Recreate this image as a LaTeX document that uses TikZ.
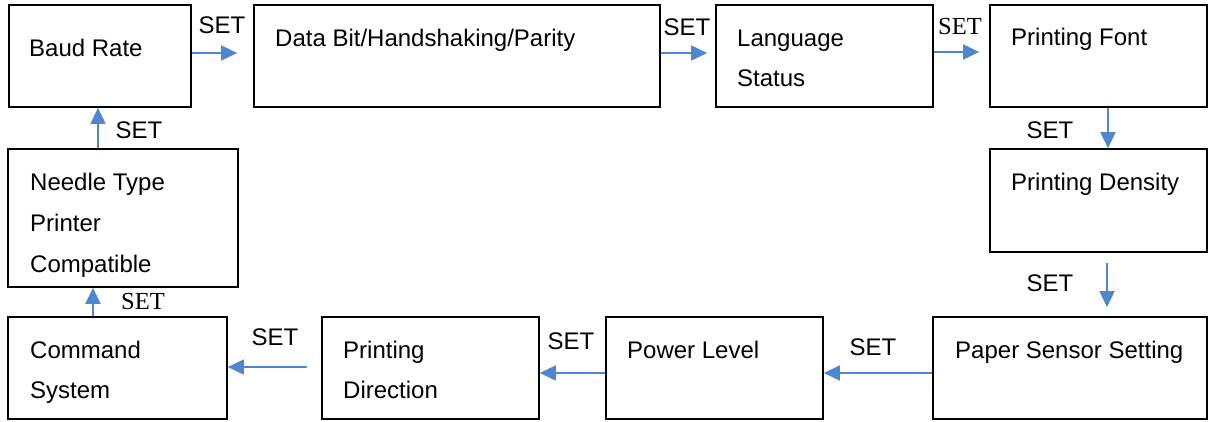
\documentclass[tikz,border=0pt]{standalone}
\usepackage{fontspec}
\setmainfont{Liberation Sans}
\newfontfamily\timesfont{Liberation Serif}
\usetikzlibrary{arrows.meta}
\definecolor{arrowblue}{RGB}{79,134,206}
\begin{document}
\begin{tikzpicture}[x=1pt,y=-1pt,
  box/.style={draw=black, line width=1.7pt, inner sep=0pt},
  lbl/.style={anchor=base west, inner sep=0pt, font=\fontsize{24}{28}\selectfont},
  setlbl/.style={inner sep=0pt, font=\fontsize{24}{28}\selectfont},
  setserif/.style={inner sep=0pt, font=\fontsize{24.5}{28}\selectfont\timesfont},
  conn/.style={draw=arrowblue, line width=1.8pt, -{Triangle[length=16pt,width=15pt]}}]
\useasboundingbox (0,0) rectangle (1213,421);

% boxes
\node[box, minimum width=182pt, minimum height=102pt] (baud) at (100,56) {};
\node[box, minimum width=406pt, minimum height=102pt] (data) at (457,56) {};
\node[box, minimum width=217pt, minimum height=102pt] (lang) at (824.5,56) {};
\node[box, minimum width=217pt, minimum height=102pt] (font) at (1098.5,56) {};
\node[box, minimum width=217pt, minimum height=103pt] (density) at (1098.5,200.5) {};
\node[box, minimum width=274pt, minimum height=102pt] (paper) at (1070,368) {};
\node[box, minimum width=217pt, minimum height=102pt] (power) at (714.5,368) {};
\node[box, minimum width=217pt, minimum height=102pt] (direction) at (430.5,368) {};
\node[box, minimum width=219pt, minimum height=102pt] (command) at (117.5,368) {};
\node[box, minimum width=230pt, minimum height=138pt] (needle) at (123,218) {};

% texts
\node[lbl] (tbaud) at (29,56) {Baud Rate};
\node[lbl] (tdata) at (275,46) {Data Bit/Handshaking/Parity};
\node[lbl] (tlang1) at (737,46) {Language};
\node[lbl] (tlang2) at (737,86) {Status};
\node[lbl] (tfont) at (1011,45) {Printing Font};
\node[lbl] (tdens) at (1011,190) {Printing Density};
\node[lbl] (tpaper) at (955,358) {Paper Sensor Setting};
\node[lbl] (tpower) at (627,358) {Power Level};
\node[lbl] (tdir1) at (343,358) {Printing};
\node[lbl] (tdir2) at (343,398) {Direction};
\node[lbl] (tcmd1) at (30,358) {Command};
\node[lbl] (tcmd2) at (30,398) {System};
\node[lbl] (tneed1) at (30,190) {Needle Type};
\node[lbl] (tneed2) at (30,231) {Printer};
\node[lbl] (tneed3) at (30,272) {Compatible};

% SET labels
\node[setlbl] (s1) at (222,25) {SET};
\node[setlbl] (s2) at (687,27) {SET};
\node[setserif] (s3) at (960,27) {SET};
\node[setlbl] (s4) at (1050,130) {SET};
\node[setlbl] (s5) at (1050,283) {SET};
\node[setlbl] (s6) at (873,347) {SET};
\node[setlbl] (s7) at (571,341) {SET};
\node[setlbl] (s8) at (275,337) {SET};
\node[setserif] (s9) at (143,302) {SET};
\node[setlbl] (s10) at (139,130) {SET};

% connectors
\draw[conn, shorten >=16pt] ([yshift=3pt]baud.east) -- ([yshift=3pt]data.west);
\draw[conn, shorten >=8pt] ([yshift=3pt]data.east) -- ([yshift=3pt]lang.west);
\draw[conn, shorten >=10pt] ([yshift=4pt]lang.east) -- ([yshift=4pt]font.west);
\draw[conn] ([xshift=9.5pt]font.south) -- ([xshift=9.5pt]density.north);
\draw[conn, shorten <=10pt, shorten >=9pt] ([xshift=8.5pt]density.south) -- ([xshift=8.5pt]density.south |- paper.north);
\draw[conn] ([yshift=-5pt]paper.west) -- ([yshift=-5pt]power.east);
\draw[conn] ([yshift=-5pt]power.west) -- ([yshift=-5pt]direction.east);
\draw[conn, shorten <=14pt] ([yshift=1pt]direction.west) -- ([yshift=1pt]command.east);
\draw[conn] ([xshift=-24.5pt]command.north) -- ([xshift=-24.5pt]command.north |- needle.south);
\draw[conn] ([xshift=-25pt]needle.north) -- ([xshift=-25pt]needle.north |- baud.south);
\end{tikzpicture}
\end{document}
